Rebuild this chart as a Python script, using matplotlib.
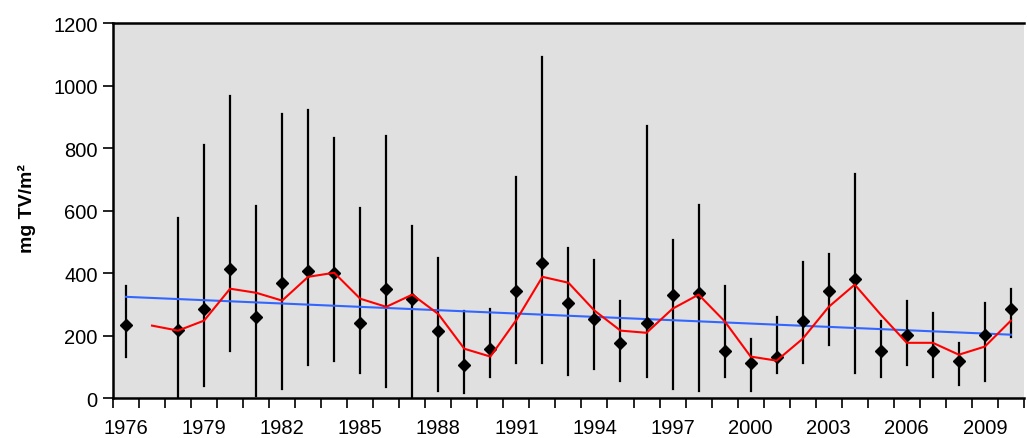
import numpy as np
import matplotlib
matplotlib.use("Agg")
import matplotlib.pyplot as plt

plt.rcParams['font.family'] = ['Liberation Sans', 'DejaVu Sans']

years = list(range(1976, 2011))

# mean values (None = no data)
means = [236, None, 219, 287, 415, 261, 370, 408, 402, 242,
         351, 319, 217, 108, 159, 345, 434, 306, 255, 178,
         242, 332, 338, 153, 114, 134, 249, 345, 383, 153,
         204, 153, 121, 204, 287]
lows = [132, None, 0, 41, 151, 9, 30, 107, 119, 80,
        36, 0, 23, 17, 68, 112, 112, 74, 93, 55,
        68, 29, 23, 68, 23, 80, 112, 170, 80, 68,
        106, 68, 42, 55, 196]
highs = [359, None, 576, 812, 966, 614, 908, 921, 832, 608,
         839, 550, 448, 281, 287, 709, 1092, 480, 442, 313,
         870, 506, 619, 359, 191, 261, 435, 461, 717, 247,
         313, 274, 178, 306, 351]

# moving average (red), starts 1977
avg_years = list(range(1977, 2011))
avg_vals = [233, 217, 249, 351, 338, 313, 389, 402, 319, 293,
            332, 270, 159, 134, 251, 389, 370, 281, 217, 210,
            287, 332, 247, 134, 121, 191, 293, 364, 268, 178,
            178, 140, 166, 249]

# linear trend (blue)
trend_years = [1976, 2010]
trend_vals = [325, 204]

tick_years = list(range(1976, 2011, 3))

fig = plt.figure(figsize=(10.27, 4.39), dpi=100)
ax = fig.add_axes([0.110, 0.090, 0.887, 0.855])
ax.set_facecolor('#e0e0e0')

pos = {y: i for i, y in enumerate(years)}

for y, m, lo, hi in zip(years, means, lows, highs):
    if m is None:
        continue
    ax.plot([pos[y], pos[y]], [lo, hi], color='black', lw=1.6, zorder=2)

xs = [pos[y] for y, m in zip(years, means) if m is not None]
ms = [m for m in means if m is not None]
ax.plot(xs, ms, linestyle='none', marker='D', markersize=6.5,
        color='black', zorder=4)

ax.plot([pos[y] for y in trend_years], trend_vals, color='#3366ff',
        lw=1.5, zorder=3)
ax.plot([pos[y] for y in avg_years], avg_vals, color='#ff0000',
        lw=1.5, zorder=5)

ax.set_xlim(-0.5, len(years) - 0.5)
ax.set_ylim(0, 1200)
ax.set_yticks(range(0, 1201, 200))

# tick marks between years
ax.set_xticks(np.arange(-0.5, len(years), 1.0))
ax.set_xticklabels([])
ax.tick_params(axis='x', direction='out', length=7, width=1.2,
               color='black')
# year labels on every third year
for y in tick_years:
    ax.annotate(str(y), xy=(pos[y], 0), xycoords=('data', 'axes fraction'),
                xytext=(0, -14), textcoords='offset points',
                ha='center', va='top', fontsize=14.5)

ax.tick_params(axis='y', direction='out', length=7, width=1.2,
               labelsize=14.5, pad=4)

for side in ['left', 'bottom', 'top']:
    ax.spines[side].set_linewidth(1.8)
    ax.spines[side].set_color('black')
ax.spines['right'].set_visible(False)

ax.set_ylabel('mg TV/m²', fontsize=14, fontweight='bold')
ax.yaxis.set_label_coords(-0.084, 0.508)

fig.savefig('out.png', dpi=100)
